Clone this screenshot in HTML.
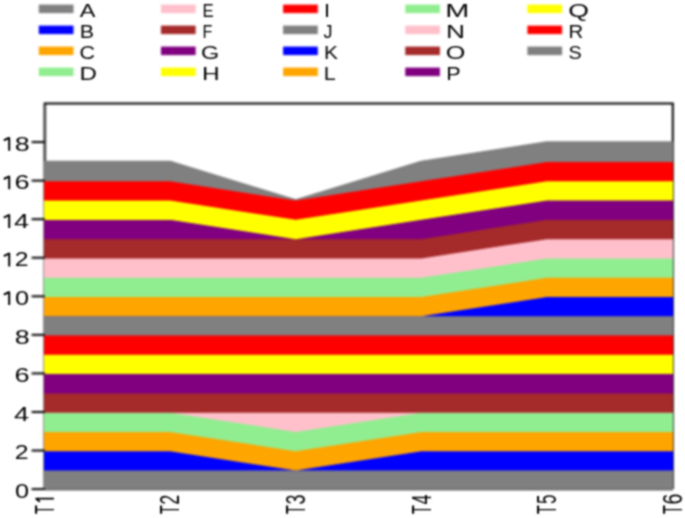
<!DOCTYPE html><html><head><meta charset="utf-8"><style>html,body{margin:0;padding:0;background:#fff;}body{width:685px;height:518px;overflow:hidden;}svg{display:block;}text{font-family:"Liberation Sans",sans-serif;fill:#000;}</style></head><body>
<div style="position:relative;width:685px;height:518px;">
<div style="filter:blur(1.0px)"><svg width="685" height="518" viewBox="0 0 685 518">
<rect x="0" y="0" width="685" height="518" fill="#fff"/>
<path d="M44.8,489.80 L44.8,103.6" fill="none" stroke="#484848" stroke-width="2.8"/>
<path d="M43.8,103.6 L673.8,103.6" fill="none" stroke="#000" stroke-width="2.0"/>
<path d="M672.8,103.6 L672.8,489.10" fill="none" stroke="#000" stroke-width="2.0"/>
<path d="M44.8,489.3 L672.8,489.3" fill="none" stroke="#000" stroke-width="2.0"/>
<polygon points="44.70,469.82 170.22,469.82 295.74,469.82 421.26,469.82 546.78,469.82 672.30,469.82 672.30,489.10 546.78,489.10 421.26,489.10 295.74,489.10 170.22,489.10 44.70,489.10" fill="#808080" stroke="#808080" stroke-width="1.4" stroke-linejoin="round"/>
<polygon points="44.70,450.54 170.22,450.54 295.74,469.82 421.26,450.54 546.78,450.54 672.30,450.54 672.30,469.82 546.78,469.82 421.26,469.82 295.74,469.82 170.22,469.82 44.70,469.82" fill="#0000ff" stroke="#0000ff" stroke-width="1.4" stroke-linejoin="round"/>
<polygon points="44.70,431.26 170.22,431.26 295.74,450.54 421.26,431.26 546.78,431.26 672.30,431.26 672.30,450.54 546.78,450.54 421.26,450.54 295.74,469.82 170.22,450.54 44.70,450.54" fill="#ffa500" stroke="#ffa500" stroke-width="1.4" stroke-linejoin="round"/>
<polygon points="44.70,411.98 170.22,411.98 295.74,431.26 421.26,411.98 546.78,411.98 672.30,411.98 672.30,431.26 546.78,431.26 421.26,431.26 295.74,450.54 170.22,431.26 44.70,431.26" fill="#90ee90" stroke="#90ee90" stroke-width="1.4" stroke-linejoin="round"/>
<polygon points="44.70,411.98 170.22,411.98 295.74,411.98 421.26,411.98 546.78,411.98 672.30,411.98 672.30,411.98 546.78,411.98 421.26,411.98 295.74,431.26 170.22,411.98 44.70,411.98" fill="#ffc0cb" stroke="#ffc0cb" stroke-width="1.4" stroke-linejoin="round"/>
<polygon points="44.70,392.70 170.22,392.70 295.74,392.70 421.26,392.70 546.78,392.70 672.30,392.70 672.30,411.98 546.78,411.98 421.26,411.98 295.74,411.98 170.22,411.98 44.70,411.98" fill="#a52a2a" stroke="#a52a2a" stroke-width="1.4" stroke-linejoin="round"/>
<polygon points="44.70,373.42 170.22,373.42 295.74,373.42 421.26,373.42 546.78,373.42 672.30,373.42 672.30,392.70 546.78,392.70 421.26,392.70 295.74,392.70 170.22,392.70 44.70,392.70" fill="#800080" stroke="#800080" stroke-width="1.4" stroke-linejoin="round"/>
<polygon points="44.70,354.14 170.22,354.14 295.74,354.14 421.26,354.14 546.78,354.14 672.30,354.14 672.30,373.42 546.78,373.42 421.26,373.42 295.74,373.42 170.22,373.42 44.70,373.42" fill="#ffff00" stroke="#ffff00" stroke-width="1.4" stroke-linejoin="round"/>
<polygon points="44.70,334.86 170.22,334.86 295.74,334.86 421.26,334.86 546.78,334.86 672.30,334.86 672.30,354.14 546.78,354.14 421.26,354.14 295.74,354.14 170.22,354.14 44.70,354.14" fill="#ff0000" stroke="#ff0000" stroke-width="1.4" stroke-linejoin="round"/>
<polygon points="44.70,315.58 170.22,315.58 295.74,315.58 421.26,315.58 546.78,315.58 672.30,315.58 672.30,334.86 546.78,334.86 421.26,334.86 295.74,334.86 170.22,334.86 44.70,334.86" fill="#808080" stroke="#808080" stroke-width="1.4" stroke-linejoin="round"/>
<polygon points="44.70,315.58 170.22,315.58 295.74,315.58 421.26,315.58 546.78,296.30 672.30,296.30 672.30,315.58 546.78,315.58 421.26,315.58 295.74,315.58 170.22,315.58 44.70,315.58" fill="#0000ff" stroke="#0000ff" stroke-width="1.4" stroke-linejoin="round"/>
<polygon points="44.70,296.30 170.22,296.30 295.74,296.30 421.26,296.30 546.78,277.02 672.30,277.02 672.30,296.30 546.78,296.30 421.26,315.58 295.74,315.58 170.22,315.58 44.70,315.58" fill="#ffa500" stroke="#ffa500" stroke-width="1.4" stroke-linejoin="round"/>
<polygon points="44.70,277.02 170.22,277.02 295.74,277.02 421.26,277.02 546.78,257.74 672.30,257.74 672.30,277.02 546.78,277.02 421.26,296.30 295.74,296.30 170.22,296.30 44.70,296.30" fill="#90ee90" stroke="#90ee90" stroke-width="1.4" stroke-linejoin="round"/>
<polygon points="44.70,257.74 170.22,257.74 295.74,257.74 421.26,257.74 546.78,238.46 672.30,238.46 672.30,257.74 546.78,257.74 421.26,277.02 295.74,277.02 170.22,277.02 44.70,277.02" fill="#ffc0cb" stroke="#ffc0cb" stroke-width="1.4" stroke-linejoin="round"/>
<polygon points="44.70,238.46 170.22,238.46 295.74,238.46 421.26,238.46 546.78,219.18 672.30,219.18 672.30,238.46 546.78,238.46 421.26,257.74 295.74,257.74 170.22,257.74 44.70,257.74" fill="#a52a2a" stroke="#a52a2a" stroke-width="1.4" stroke-linejoin="round"/>
<polygon points="44.70,219.18 170.22,219.18 295.74,238.46 421.26,219.18 546.78,199.90 672.30,199.90 672.30,219.18 546.78,219.18 421.26,238.46 295.74,238.46 170.22,238.46 44.70,238.46" fill="#800080" stroke="#800080" stroke-width="1.4" stroke-linejoin="round"/>
<polygon points="44.70,199.90 170.22,199.90 295.74,219.18 421.26,199.90 546.78,180.62 672.30,180.62 672.30,199.90 546.78,199.90 421.26,219.18 295.74,238.46 170.22,219.18 44.70,219.18" fill="#ffff00" stroke="#ffff00" stroke-width="1.4" stroke-linejoin="round"/>
<polygon points="44.70,180.62 170.22,180.62 295.74,199.90 421.26,180.62 546.78,161.34 672.30,161.34 672.30,180.62 546.78,180.62 421.26,199.90 295.74,219.18 170.22,199.90 44.70,199.90" fill="#ff0000" stroke="#ff0000" stroke-width="1.4" stroke-linejoin="round"/>
<polygon points="44.70,161.34 170.22,161.34 295.74,199.90 421.26,161.34 546.78,142.06 672.30,142.06 672.30,161.34 546.78,161.34 421.26,180.62 295.74,199.90 170.22,180.62 44.70,180.62" fill="#808080" stroke="#808080" stroke-width="1.4" stroke-linejoin="round"/>
<line x1="31.6" y1="489.10" x2="44.8" y2="489.10" stroke="#000" stroke-width="2.0"/>
<line x1="31.6" y1="450.54" x2="44.8" y2="450.54" stroke="#000" stroke-width="2.0"/>
<line x1="31.6" y1="411.98" x2="44.8" y2="411.98" stroke="#000" stroke-width="2.0"/>
<line x1="31.6" y1="373.42" x2="44.8" y2="373.42" stroke="#000" stroke-width="2.0"/>
<line x1="31.6" y1="334.86" x2="44.8" y2="334.86" stroke="#000" stroke-width="2.0"/>
<line x1="31.6" y1="296.30" x2="44.8" y2="296.30" stroke="#000" stroke-width="2.0"/>
<line x1="31.6" y1="257.74" x2="44.8" y2="257.74" stroke="#000" stroke-width="2.0"/>
<line x1="31.6" y1="219.18" x2="44.8" y2="219.18" stroke="#000" stroke-width="2.0"/>
<line x1="31.6" y1="180.62" x2="44.8" y2="180.62" stroke="#000" stroke-width="2.0"/>
<line x1="31.6" y1="142.06" x2="44.8" y2="142.06" stroke="#000" stroke-width="2.0"/>
<rect x="38.80" y="4.60" width="34.7" height="8.5" fill="#808080"/>
<rect x="38.80" y="25.60" width="34.7" height="8.5" fill="#0000ff"/>
<rect x="38.80" y="46.60" width="34.7" height="8.5" fill="#ffa500"/>
<rect x="38.80" y="67.60" width="34.7" height="8.5" fill="#90ee90"/>
<rect x="160.95" y="4.60" width="34.7" height="8.5" fill="#ffc0cb"/>
<rect x="160.95" y="25.60" width="34.7" height="8.5" fill="#a52a2a"/>
<rect x="160.95" y="46.60" width="34.7" height="8.5" fill="#800080"/>
<rect x="160.95" y="67.60" width="34.7" height="8.5" fill="#ffff00"/>
<rect x="283.10" y="4.60" width="34.7" height="8.5" fill="#ff0000"/>
<rect x="283.10" y="25.60" width="34.7" height="8.5" fill="#808080"/>
<rect x="283.10" y="46.60" width="34.7" height="8.5" fill="#0000ff"/>
<rect x="283.10" y="67.60" width="34.7" height="8.5" fill="#ffa500"/>
<rect x="405.25" y="4.60" width="34.7" height="8.5" fill="#90ee90"/>
<rect x="405.25" y="25.60" width="34.7" height="8.5" fill="#ffc0cb"/>
<rect x="405.25" y="46.60" width="34.7" height="8.5" fill="#a52a2a"/>
<rect x="405.25" y="67.60" width="34.7" height="8.5" fill="#800080"/>
<rect x="527.40" y="4.60" width="34.7" height="8.5" fill="#ffff00"/>
<rect x="527.40" y="25.60" width="34.7" height="8.5" fill="#ff0000"/>
<rect x="527.40" y="46.60" width="34.7" height="8.5" fill="#808080"/>
</svg></div>
<svg style="position:absolute;left:0;top:0;" width="685" height="518" viewBox="0 0 685 518"><defs><filter id="tb" x="0" y="0" width="685" height="518" filterUnits="userSpaceOnUse"><feConvolveMatrix order="5" kernelMatrix="0.00142 0.00904 0.01675 0.00904 0.00142 0.00904 0.05757 0.10673 0.05757 0.00904 0.01675 0.10673 0.19786 0.10673 0.01675 0.00904 0.05757 0.10673 0.05757 0.00904 0.00142 0.00904 0.01675 0.00904 0.00142" edgeMode="none" preserveAlpha="false"/></filter></defs><g filter="url(#tb)">
<text transform="translate(15.01,497.80) scale(1.4890,1.1628)" font-size="17.0">0</text>
<text transform="translate(14.85,459.24) scale(1.4591,1.1628)" font-size="17.0">2</text>
<text transform="translate(14.08,420.68) scale(1.5993,1.1628)" font-size="17.0">4</text>
<text transform="translate(14.52,382.12) scale(1.5935,1.1628)" font-size="17.0">6</text>
<text transform="translate(14.73,343.56) scale(1.5795,1.1628)" font-size="17.0">8</text>
<path d="M9.20,291.40 L9.20,305.00 M9.20,292.00 L3.80,294.66" stroke="#000" stroke-width="2.00" fill="none" stroke-linecap="butt"/>
<text transform="translate(15.01,305.00) scale(1.4890,1.1628)" font-size="17.0">0</text>
<path d="M9.20,252.84 L9.20,266.44 M9.20,253.44 L3.80,256.10" stroke="#000" stroke-width="2.00" fill="none" stroke-linecap="butt"/>
<text transform="translate(14.85,266.44) scale(1.4591,1.1628)" font-size="17.0">2</text>
<path d="M9.20,214.28 L9.20,227.88 M9.20,214.88 L3.80,217.54" stroke="#000" stroke-width="2.00" fill="none" stroke-linecap="butt"/>
<text transform="translate(14.08,227.88) scale(1.5993,1.1628)" font-size="17.0">4</text>
<path d="M9.20,175.72 L9.20,189.32 M9.20,176.32 L3.80,178.98" stroke="#000" stroke-width="2.00" fill="none" stroke-linecap="butt"/>
<text transform="translate(14.52,189.32) scale(1.5935,1.1628)" font-size="17.0">6</text>
<path d="M9.20,137.16 L9.20,150.76 M9.20,137.76 L3.80,140.42" stroke="#000" stroke-width="2.00" fill="none" stroke-linecap="butt"/>
<text transform="translate(14.73,150.76) scale(1.5795,1.1628)" font-size="17.0">8</text>
<text transform="translate(53.95,513.93) scale(1.5818,0.8531) rotate(-90)" font-size="17.0">T</text>
<g transform="translate(53.95,502.40) rotate(-90)"><path d="M3.75,-18.50 L3.75,0.00 M3.75,-17.93 L0.57,-14.06" stroke="#000" stroke-width="1.90" fill="none" stroke-linecap="butt"/></g>
<text transform="translate(179.47,513.93) scale(1.5818,0.8531) rotate(-90)" font-size="17.0">T</text>
<text transform="translate(179.47,504.81) scale(1.5818,1.0588) rotate(-90)" font-size="17.0">2</text>
<text transform="translate(304.99,513.93) scale(1.5818,0.8531) rotate(-90)" font-size="17.0">T</text>
<text transform="translate(304.99,504.58) scale(1.5818,1.0546) rotate(-90)" font-size="17.0">3</text>
<text transform="translate(430.51,513.93) scale(1.5818,0.8531) rotate(-90)" font-size="17.0">T</text>
<text transform="translate(430.51,504.61) scale(1.5818,1.0623) rotate(-90)" font-size="17.0">4</text>
<text transform="translate(556.03,513.93) scale(1.5818,0.8531) rotate(-90)" font-size="17.0">T</text>
<text transform="translate(556.03,504.08) scale(1.5818,0.9925) rotate(-90)" font-size="17.0">5</text>
<text transform="translate(681.55,513.93) scale(1.5818,0.8531) rotate(-90)" font-size="17.0">T</text>
<text transform="translate(681.55,504.39) scale(1.5818,1.1473) rotate(-90)" font-size="17.0">6</text>
<text transform="translate(79.85,16.80) scale(1.3839,1.0944)" font-size="17.0">A</text>
<text transform="translate(79.74,37.80) scale(1.2600,1.0944)" font-size="17.0">B</text>
<text transform="translate(79.51,58.80) scale(1.2632,1.0944)" font-size="17.0">C</text>
<text transform="translate(79.52,79.80) scale(1.4202,1.0944)" font-size="17.0">D</text>
<text transform="translate(202.52,16.80) scale(0.9876,1.0944)" font-size="17.0">E</text>
<text transform="translate(202.57,37.80) scale(0.9508,1.0944)" font-size="17.0">F</text>
<text transform="translate(201.12,58.80) scale(1.3786,1.0944)" font-size="17.0">G</text>
<text transform="translate(201.89,79.80) scale(1.4427,1.0944)" font-size="17.0">H</text>
<text transform="translate(324.12,16.80) scale(1.2615,1.0944)" font-size="17.0">I</text>
<text transform="translate(323.62,37.80) scale(1.0613,1.0944)" font-size="17.0">J</text>
<text transform="translate(323.88,58.80) scale(1.2303,1.0944)" font-size="17.0">K</text>
<text transform="translate(323.83,79.80) scale(1.2674,1.0944)" font-size="17.0">L</text>
<text transform="translate(445.23,16.80) scale(1.6971,1.0944)" font-size="17.0">M</text>
<text transform="translate(445.94,37.80) scale(1.5480,1.0944)" font-size="17.0">N</text>
<text transform="translate(445.71,58.80) scale(1.4822,1.0944)" font-size="17.0">O</text>
<text transform="translate(446.33,79.80) scale(1.2710,1.0944)" font-size="17.0">P</text>
<text transform="translate(568.14,16.80) scale(1.5684,1.0944)" font-size="17.0">Q</text>
<text transform="translate(568.43,37.80) scale(1.1988,1.0944)" font-size="17.0">R</text>
<text transform="translate(568.50,58.80) scale(1.1649,1.0944)" font-size="17.0">S</text>
</g></svg></div></body></html>
